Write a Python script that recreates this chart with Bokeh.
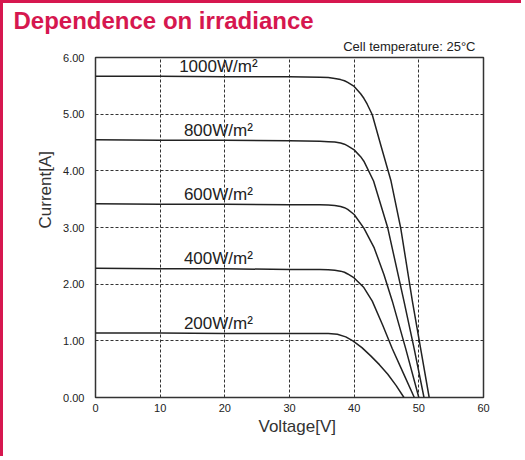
from bokeh.plotting import figure
from bokeh.models import Title, FixedTicker, Range1d, PrintfTickFormatter, ColumnDataSource
from bokeh.core.properties import value
from bokeh.embed import file_html
from bokeh.resources import INLINE

# ---- data ----
irradiance_labels = ["1000W/m²", "800W/m²", "600W/m²", "400W/m²", "200W/m²"]

v_1000 = [0, 10, 20, 30, 34.7, 36.0, 37.0, 37.9, 38.5, 39.0, 40.0, 41.0, 41.5, 42.0, 42.8, 44.1, 45.7, 47.2, 49.0, 50.3, 51.6]
i_1000 = [5.67, 5.67, 5.66, 5.66, 5.65, 5.645, 5.63, 5.61, 5.59, 5.56, 5.49, 5.36, 5.28, 5.18, 4.99, 4.46, 3.82, 2.99, 1.70, 0.85, 0.0]

v_800 = [0, 10, 20, 30, 34.7, 36.0, 37.0, 37.9, 38.5, 39.0, 40.0, 41.0, 41.5, 43.0, 45.2, 47.7, 49.3, 50.8]
i_800 = [4.55, 4.54, 4.54, 4.53, 4.52, 4.515, 4.51, 4.49, 4.47, 4.44, 4.37, 4.25, 4.17, 3.82, 2.99, 1.70, 0.85, 0.0]

v_600 = [0, 10, 20, 30, 34.7, 36.0, 37.0, 37.9, 38.5, 39.0, 40.0, 41.5, 43.1, 44.6, 45.9, 48.0, 50.0]
i_600 = [3.42, 3.41, 3.41, 3.40, 3.40, 3.395, 3.39, 3.37, 3.35, 3.32, 3.23, 2.99, 2.64, 2.17, 1.70, 0.85, 0.0]

v_400 = [0, 10, 20, 30, 34.7, 36.0, 37.0, 37.9, 38.5, 39.0, 40.0, 41.5, 42.8, 44.4, 45.9, 47.6, 49.3]
i_400 = [2.28, 2.27, 2.27, 2.26, 2.26, 2.255, 2.245, 2.23, 2.21, 2.18, 2.11, 1.94, 1.70, 1.28, 0.86, 0.43, 0.0]

v_200 = [0, 10, 20, 30, 34.7, 36.0, 37.4, 38.7, 39.8, 41.2, 42.6, 43.9, 45.2, 46.5, 47.7]
i_200 = [1.14, 1.14, 1.13, 1.13, 1.13, 1.128, 1.115, 1.07, 1.00, 0.88, 0.73, 0.58, 0.41, 0.21, 0.0]

x_ticks = [0, 10, 20, 30, 40, 50, 60]
y_ticks = [0, 1, 2, 3, 4, 5, 6]

curves = [(v_1000, i_1000), (v_800, i_800), (v_600, i_600), (v_400, i_400), (v_200, i_200)]

RED = "#d6174f"
INK = "#222222"
GRAY = "#333333"
FONT = "Liberation Sans"

p = figure(width=521, height=456, x_range=Range1d(0, 60), y_range=Range1d(0, 6),
           output_backend="svg", toolbar_location=None, title_location=None,
           min_border_left=92, min_border_right=41, min_border_top=54, min_border_bottom=62)
p.styles = {"border-top": f"3px solid {RED}", "border-left": f"3px solid {RED}"}
p.background_fill_color = "white"
p.border_fill_color = "white"
p.outline_line_color = GRAY
p.outline_line_width = 1.5

for ax in (p.xaxis[0], p.yaxis[0]):
    ax.axis_line_color = None
    ax.major_tick_line_color = None
    ax.minor_tick_line_color = None
    ax.major_tick_out = 0
    ax.major_tick_in = 0
    ax.minor_tick_out = 0
    ax.minor_tick_in = 0
    ax.major_label_text_font = FONT
    ax.major_label_text_font_size = "11px"
    ax.major_label_text_color = INK

p.xaxis.ticker = FixedTicker(ticks=x_ticks)
p.yaxis.ticker = FixedTicker(ticks=y_ticks)
p.yaxis.formatter = PrintfTickFormatter(format="%.2f")
p.xaxis.major_label_standoff = 6
p.yaxis.major_label_standoff = 11

p.xgrid.ticker = FixedTicker(ticks=x_ticks[1:-1])
p.ygrid.ticker = FixedTicker(ticks=y_ticks[1:-1])
for g in (p.xgrid[0], p.ygrid[0]):
    g.grid_line_color = GRAY
    g.grid_line_dash = "3 2"
    g.grid_line_width = 1

for (vv, ii) in curves:
    p.line(vv, ii, line_color=INK, line_width=1.5)

# curve labels, sitting just above each flat part
lab_src = ColumnDataSource(dict(x=[19.0] * len(curves), y=[c[1][0] for c in curves], t=irradiance_labels))
p.text(x="x", y="y", text="t", source=lab_src, text_align="center", text_baseline="bottom",
       text_font=value(FONT), text_font_size="17px", text_color=INK)

# titles / axis captions as Title panels
p.add_layout(Title(text="Cell temperature: 25°C", align="right", offset=8, standoff=7,
                   text_font=FONT, text_font_style="normal", text_font_size="13px",
                   text_color=INK), "above")
p.add_layout(Title(text="Dependence on irradiance", align="left", offset=-82, standoff=0,
                   text_font=FONT, text_font_style="bold", text_font_size="24px",
                   text_color=RED), "above")
p.add_layout(Title(text="Voltage[V]", align="left", offset=163, standoff=0,
                   text_font=FONT, text_font_style="normal", text_font_size="17px",
                   text_color=GRAY), "below")
p.add_layout(Title(text="Current[A]", align="left", offset=169, standoff=12,
                   text_font=FONT, text_font_style="normal", text_font_size="17px",
                   text_color=GRAY), "left")

open("out.html", "w").write(file_html(p, INLINE))
